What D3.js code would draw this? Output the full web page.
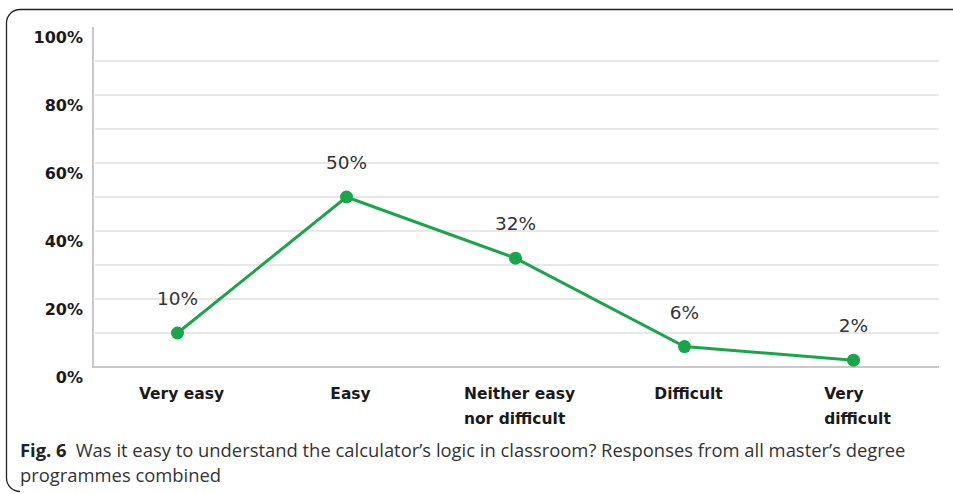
<!DOCTYPE html>
<html>
<head>
<meta charset="utf-8">
<script src="https://cdn.jsdelivr.net/npm/d3@7"></script>
<style>
  body { margin: 0; background: #fff; }
  svg { display: block; }
  .ylab, .xlab { font-family: 'DejaVu Sans', sans-serif; font-weight: bold; fill: #1a1a1a; }
  .vlab { font-family: 'DejaVu Sans', sans-serif; fill: #333; }
  .caption { font-family: 'Open Sans', sans-serif; fill: #333; }
</style>
</head>
<body>
<svg id="chart" width="953" height="494"></svg>
<script>
// chart data
var categories = [['Very easy'], ['Easy'], ['Neither easy', 'nor difficult'], ['Difficult'], ['Very', 'difficult']];
var values = [10, 50, 32, 6, 2];
var yTicks = [0, 20, 40, 60, 80, 100];
var gridTicks = [10, 20, 30, 40, 50, 60, 70, 80, 90];

var svg = d3.select('#chart');

// figure frame (rounded on the left)
svg.append('path').
    attr('d', 'M953,9.5 H20 A13.5,13.5 0 0 0 6.5,23 V478 A13.5,13.5 0 0 0 20,491.5').
    attr('fill', 'none').attr('stroke', '#222').attr('stroke-width', 1.3);

var x = d3.scaleBand().domain(d3.range(values.length)).range([93, 938]);
var y = d3.scaleLinear().domain([0, 100]).range([367, 27]);

var g = svg.append('g');

// grid
g.selectAll('line.grid').data(gridTicks).enter().append('line').
    attr('x1', 95).attr('x2', 939).
    attr('y1', function(d) { return y(d); }).attr('y2', function(d) { return y(d); }).
    attr('stroke', '#e8e8e8').attr('stroke-width', 2);

// axis lines
g.append('line').attr('x1', 93).attr('x2', 93).attr('y1', y(100)).attr('y2', y(0) + 1).
    attr('stroke', '#c8c8c8').attr('stroke-width', 2);
g.append('line').attr('x1', 93).attr('x2', 939).attr('y1', y(0)).attr('y2', y(0)).
    attr('stroke', '#c8c8c8').attr('stroke-width', 2);

// y labels (sit a little under their value)
g.selectAll('text.ylab').data(yTicks).enter().append('text').attr('class', 'ylab').
    attr('x', 83).attr('y', function(d) { return y(d) + 16; }).
    attr('text-anchor', 'end').attr('font-size', 16).
    text(function(d) { return d + '%'; });

// x labels, multi-line ones left aligned in a centred block
categories.forEach(function(lines, i) {
    var cx = x(i) + x.bandwidth() / 2;
    var t = g.append('text').attr('class', 'xlab').attr('font-size', 15.5);
    lines.forEach(function(s, j) {
        t.append('tspan').attr('y', 399 + j * 25).text(s);
    });
    var w = d3.max(t.selectAll('tspan').nodes(), function(n) { return n.getComputedTextLength(); });
    t.selectAll('tspan').attr('x', cx - w / 2 + 4);
});

var cxOf = function(d, i) { return x(i) + x.bandwidth() / 2; };

// line
var line = d3.line().x(cxOf).y(function(d) { return y(d); });
g.append('path').datum(values).attr('d', line).
    attr('fill', 'none').attr('stroke', '#1ba54b').attr('stroke-width', 3);

g.selectAll('circle').data(values).enter().append('circle').
    attr('cx', cxOf).attr('cy', function(d) { return y(d); }).attr('r', 6.5).
    attr('fill', '#1ba54b');

g.selectAll('text.vlab').data(values).enter().append('text').attr('class', 'vlab').
    attr('x', cxOf).attr('y', function(d) { return y(d) - 28; }).
    attr('text-anchor', 'middle').attr('font-size', 18.5).
    text(function(d) { return d + '%'; });

// caption
var cap = svg.append('text').attr('class', 'caption').attr('font-size', 18.4).attr('x', 20).attr('y', 457);
cap.append('tspan').attr('font-weight', 'bold').attr('fill', '#222').text('Fig. 6');
cap.append('tspan').attr('dx', 9).text('Was it easy to understand the calculator\u2019s logic in classroom? Responses from all master\u2019s degree');
svg.append('text').attr('class', 'caption').attr('font-size', 18.4).attr('x', 20).attr('y', 482).
    text('programmes combined');
</script>
</body>
</html>
